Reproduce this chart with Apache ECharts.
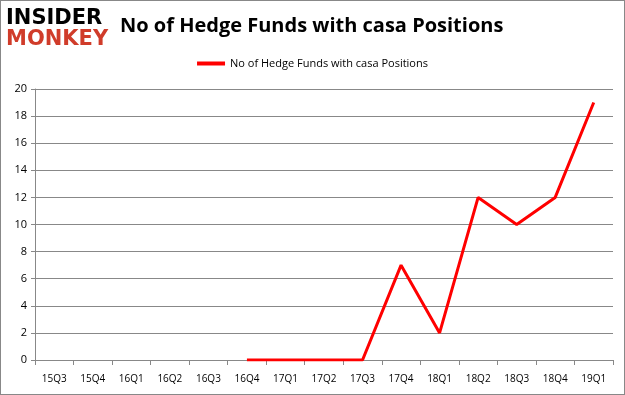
<!DOCTYPE html>
<html><head><meta charset="utf-8">
<script src="https://cdn.jsdelivr.net/npm/echarts@6/dist/echarts.min.js"></script>
<style>html,body{margin:0;padding:0;background:#fff}#c{width:625px;height:395px;box-sizing:border-box;border:1px solid #888}</style>
</head><body><div id="c"></div>
<script>
const categories = ['15Q3','15Q4','16Q1','16Q2','16Q3','16Q4','17Q1','17Q2','17Q3','17Q4','18Q1','18Q2','18Q3','18Q4','19Q1'];
const values = [null,null,null,null,null,0,0,0,0,7,2,12,10,12,19];
const yTicks = {min:0,max:20,interval:2};
const seriesName = 'No of Hedge Funds with casa Positions';
const titleText = 'No of Hedge Funds with casa Positions';

const chart = echarts.init(document.getElementById('c'));
chart.setOption({
  animation:false,
  title:{text:titleText,left:114,top:10,textStyle:{fontFamily:'Open Sans',fontSize:20,fontWeight:'bold',color:'#000'}},
  legend:{top:52,left:'center',itemWidth:28,itemHeight:4,itemGap:6,icon:'rect',textStyle:{fontFamily:'Open Sans',fontSize:11,color:'#000'},data:[seriesName]},
  grid:{left:34,right:11,top:88,bottom:34},
  xAxis:{type:'category',data:categories,boundaryGap:true,
    axisLine:{lineStyle:{color:'#888',width:1}},axisTick:{show:true,length:5,lineStyle:{color:'#888'}},
    axisLabel:{fontFamily:'Open Sans',fontSize:10,color:'#000',margin:14}},
  yAxis:{type:'value',min:yTicks.min,max:yTicks.max,interval:yTicks.interval,
    axisLine:{show:true,lineStyle:{color:'#888'}},axisTick:{show:true,length:4,lineStyle:{color:'#888'}},
    splitLine:{lineStyle:{color:'#888',width:1}},
    axisLabel:{fontFamily:'Open Sans',fontSize:11,color:'#000',margin:8}},
  series:[{name:seriesName,type:'line',data:values,symbol:'none',lineStyle:{color:'#ff0000',width:3},itemStyle:{color:'#ff0000'}}],
  graphic:[
    {type:'text',left:5,top:7,style:{text:'INSIDER',font:'bold 21px "DejaVu Sans"',fill:'#000'}},
    {type:'text',left:5,top:28,style:{text:'MONKEY',font:'bold 21px "DejaVu Sans"',fill:'#d03c2a'}}
  ]
});
</script></body></html>
